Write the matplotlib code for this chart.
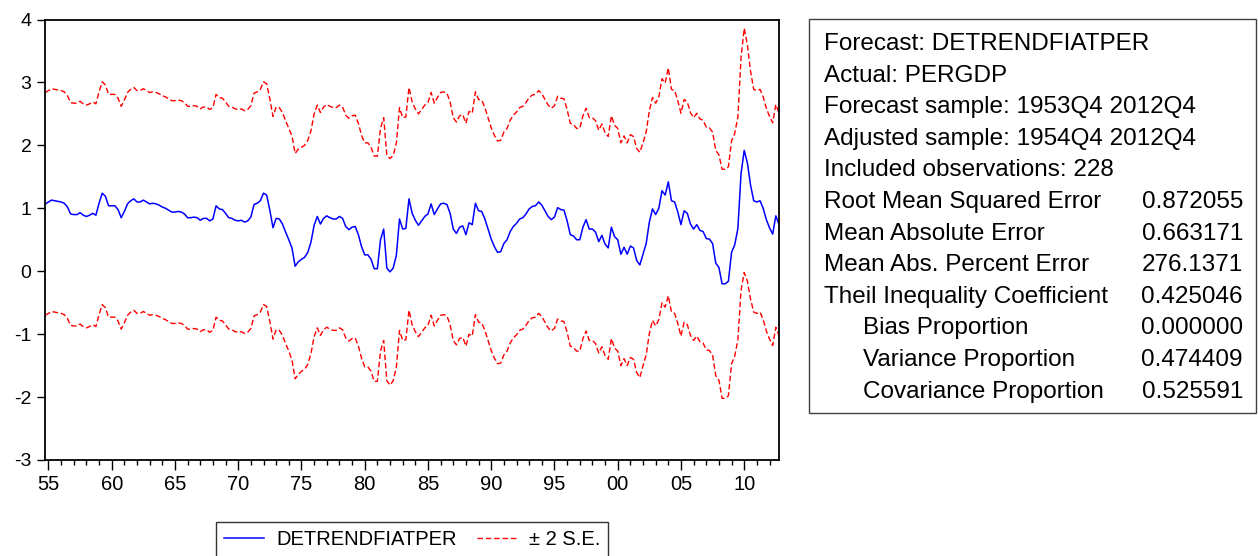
import matplotlib
matplotlib.use('Agg')
import matplotlib.pyplot as plt
from matplotlib.patches import Rectangle
from matplotlib.ticker import FixedLocator, MultipleLocator
import numpy as np
import pandas as pd

plt.rcParams['font.family'] = ['Liberation Sans', 'DejaVu Sans']
plt.rcParams['axes.unicode_minus'] = False

# quarterly sample 1954Q4 - 2012Q4
quarters = pd.period_range('1954Q4', '2012Q4', freq='Q')

# forecast DETRENDFIATPER
forecast = [
    1.07, 1.10, 1.13, 1.12, 1.11, 1.10, 1.08, 1.02, 0.91, 0.90,
    0.90, 0.93, 0.89, 0.87, 0.89, 0.92, 0.89, 1.08, 1.24, 1.19,
    1.04, 1.04, 1.04, 0.98, 0.85, 0.95, 1.07, 1.12, 1.15, 1.10,
    1.10, 1.13, 1.10, 1.07, 1.08, 1.07, 1.05, 1.02, 1.00, 0.97,
    0.94, 0.94, 0.95, 0.94, 0.91, 0.85, 0.85, 0.86, 0.85, 0.81,
    0.84, 0.84, 0.80, 0.83, 1.04, 0.99, 0.98, 0.92, 0.85, 0.84,
    0.81, 0.80, 0.81, 0.78, 0.80, 0.86, 1.06, 1.08, 1.12, 1.24,
    1.21, 0.97, 0.69, 0.84, 0.83, 0.75, 0.62, 0.50, 0.37, 0.08,
    0.15, 0.19, 0.22, 0.30, 0.46, 0.73, 0.87, 0.75, 0.84, 0.88,
    0.85, 0.83, 0.83, 0.87, 0.84, 0.71, 0.66, 0.70, 0.71, 0.58,
    0.39, 0.26, 0.26, 0.19, 0.04, 0.04, 0.50, 0.67, 0.05, -0.01,
    0.05, 0.25, 0.83, 0.67, 0.68, 1.15, 0.92, 0.81, 0.73, 0.80,
    0.87, 0.91, 1.07, 0.90, 0.99, 1.07, 1.08, 1.06, 0.92, 0.67,
    0.60, 0.70, 0.72, 0.58, 0.77, 0.74, 1.08, 0.96, 0.95, 0.83,
    0.67, 0.51, 0.39, 0.30, 0.31, 0.44, 0.50, 0.63, 0.71, 0.76,
    0.83, 0.85, 0.91, 0.99, 1.03, 1.04, 1.10, 1.05, 0.96, 0.87,
    0.82, 0.86, 1.01, 0.98, 0.97, 0.80, 0.58, 0.56, 0.50, 0.50,
    0.70, 0.82, 0.67, 0.67, 0.62, 0.47, 0.57, 0.43, 0.37, 0.70,
    0.55, 0.50, 0.27, 0.38, 0.27, 0.40, 0.37, 0.17, 0.10, 0.27,
    0.44, 0.78, 0.99, 0.90, 1.00, 1.28, 1.21, 1.42, 1.12, 1.10,
    0.94, 0.74, 0.96, 0.92, 0.75, 0.67, 0.74, 0.65, 0.63, 0.52,
    0.51, 0.44, 0.13, 0.06, -0.20, -0.20, -0.16, 0.30, 0.42, 0.68,
    1.55, 1.92, 1.72, 1.37, 1.12, 1.10, 1.12, 1.00, 0.82, 0.69,
    0.59, 0.88, 0.74,
]

# 2 x forecast standard error
two_se = [
    1.77, 1.77, 1.77, 1.77, 1.77, 1.77, 1.77, 1.77, 1.77, 1.77,
    1.77, 1.77, 1.77, 1.77, 1.77, 1.77, 1.77, 1.77, 1.77, 1.77,
    1.77, 1.77, 1.77, 1.77, 1.77, 1.77, 1.77, 1.77, 1.77, 1.77,
    1.77, 1.77, 1.77, 1.77, 1.77, 1.77, 1.77, 1.77, 1.77, 1.77,
    1.77, 1.77, 1.77, 1.77, 1.77, 1.77, 1.77, 1.77, 1.77, 1.77,
    1.77, 1.77, 1.77, 1.77, 1.77, 1.77, 1.77, 1.77, 1.77, 1.77,
    1.77, 1.77, 1.77, 1.77, 1.77, 1.77, 1.77, 1.77, 1.77, 1.77,
    1.77, 1.77, 1.77, 1.77, 1.77, 1.77, 1.77, 1.77, 1.78, 1.79,
    1.79, 1.78, 1.78, 1.78, 1.77, 1.77, 1.77, 1.77, 1.77, 1.77,
    1.77, 1.77, 1.77, 1.77, 1.77, 1.77, 1.77, 1.77, 1.77, 1.77,
    1.77, 1.78, 1.78, 1.78, 1.79, 1.79, 1.77, 1.77, 1.79, 1.80,
    1.79, 1.78, 1.77, 1.77, 1.77, 1.77, 1.77, 1.77, 1.77, 1.77,
    1.77, 1.77, 1.77, 1.77, 1.77, 1.77, 1.77, 1.77, 1.77, 1.77,
    1.77, 1.77, 1.77, 1.77, 1.77, 1.77, 1.77, 1.77, 1.77, 1.77,
    1.77, 1.77, 1.77, 1.77, 1.77, 1.77, 1.77, 1.77, 1.77, 1.77,
    1.77, 1.77, 1.77, 1.77, 1.77, 1.77, 1.77, 1.77, 1.77, 1.77,
    1.77, 1.77, 1.77, 1.77, 1.77, 1.77, 1.77, 1.77, 1.77, 1.77,
    1.77, 1.77, 1.77, 1.77, 1.77, 1.77, 1.77, 1.77, 1.77, 1.77,
    1.77, 1.77, 1.77, 1.77, 1.77, 1.77, 1.77, 1.78, 1.79, 1.77,
    1.77, 1.77, 1.77, 1.77, 1.77, 1.78, 1.78, 1.81, 1.77, 1.77,
    1.77, 1.77, 1.77, 1.77, 1.77, 1.77, 1.77, 1.77, 1.77, 1.77,
    1.77, 1.77, 1.79, 1.79, 1.82, 1.82, 1.82, 1.77, 1.77, 1.77,
    1.85, 1.94, 1.88, 1.81, 1.77, 1.77, 1.77, 1.77, 1.77, 1.77,
    1.77, 1.77, 1.77,
]

year_ticks = [1955, 1960, 1965, 1970, 1975, 1980, 1985, 1990, 1995, 2000, 2005, 2010]
year_labels = ['55', '60', '65', '70', '75', '80', '85', '90', '95', '00', '05', '10']
y_ticks = [-3, -2, -1, 0, 1, 2, 3, 4]

header_lines = ['Forecast: DETRENDFIATPER', 'Actual: PERGDP',
                'Forecast sample: 1953Q4 2012Q4', 'Adjusted sample: 1954Q4 2012Q4',
                'Included observations: 228']
stat_names = ['Root Mean Squared Error', 'Mean Absolute Error', 'Mean Abs. Percent Error',
              'Theil Inequality Coefficient', 'Bias Proportion', 'Variance Proportion',
              'Covariance Proportion']
stat_values = ['0.872055', '0.663171', '276.1371', '0.425046', '0.000000', '0.474409', '0.525591']
indented = ['Bias Proportion', 'Variance Proportion', 'Covariance Proportion']

t = np.array([p.year + (p.quarter - 1) / 4 for p in quarters])
fc = np.array(forecast)
se = np.array(two_se)

W, H = 1258, 556
fig = plt.figure(figsize=(W / 100, H / 100), dpi=100)
ax = fig.add_axes([45.3 / W, 1 - 460 / H, (779 - 45.3) / W, (460 - 19.5) / H])

l1, = ax.plot(t, fc, color='#0000FF', lw=1.1, label='DETRENDFIATPER')
l2, = ax.plot(t, fc + se, color='#FF0000', lw=1.0, ls=(0, (4, 2)), label='\u00b1 2 S.E.')
ax.plot(t, fc - se, color='#FF0000', lw=1.0, ls=(0, (4, 2)))

ax.set_xlim(t[0], t[-1])
ax.set_ylim(-3, 4)
ax.xaxis.set_major_locator(FixedLocator(year_ticks))
ax.xaxis.set_minor_locator(MultipleLocator(1))
ax.set_xticklabels(year_labels)
ax.set_yticks(y_ticks)
ax.set_yticklabels([str(v) for v in y_ticks])

for s in ax.spines.values():
    s.set_linewidth(1.3)
    s.set_color('black')
ax.tick_params(axis='x', which='major', direction='out', length=7, width=1, labelsize=14.5, pad=4)
ax.tick_params(axis='x', which='minor', direction='out', length=3.5, width=1)
ax.tick_params(axis='y', direction='out', length=6, width=1, labelsize=14, pad=4)

fig.legend(handles=[l1, l2], loc='center', bbox_to_anchor=(412 / W, 1 - 539.5 / H),
           ncol=2, frameon=True, fancybox=False, edgecolor='black', fontsize=14.5,
           handlelength=2.0, handletextpad=0.6, columnspacing=1.0, borderpad=0.4)

# statistics box
fig.patches.append(Rectangle((809 / W, 1 - 413 / H), (1256 - 809) / W, (413 - 19) / H,
                             transform=fig.transFigure, fill=False,
                             edgecolor='#404040', lw=1))
lines = header_lines + stat_names
for i, txt in enumerate(lines):
    y = 1 - (50 + 31.6 * i) / H
    x = 863 if txt in indented else 824
    fig.text(x / W, y, txt, fontsize=17.5, va='baseline', ha='left')
for j, val in enumerate(stat_values):
    y = 1 - (50 + 31.6 * (len(header_lines) + j)) / H
    fig.text(1243 / W, y, val, fontsize=17.5, va='baseline', ha='right')

fig.savefig('out.png', dpi=100)
